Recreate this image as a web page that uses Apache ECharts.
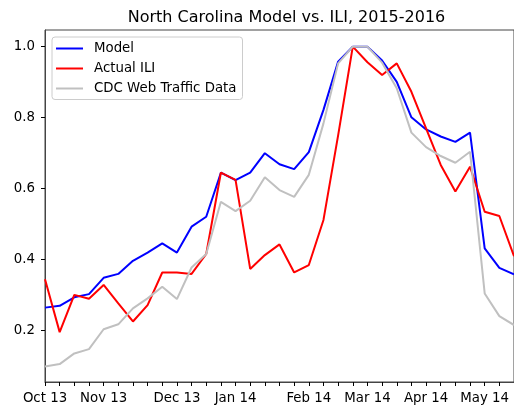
<!DOCTYPE html>
<html>
<head>
<meta charset="utf-8">
<script src="https://cdn.jsdelivr.net/npm/echarts@6/dist/echarts.min.js"></script>
<style>html,body{margin:0;padding:0;background:#fff;}#c{width:514px;height:408px;}</style>
</head>
<body>
<div id="c"></div>
<script>
// Weekly index along the x axis (week 0 = "Oct 13")
var weeks = [];
for (var i = 0; i <= 32; i++) weeks.push(String(i));
var tickLabels = ['Oct 13', 'Nov 13', 'Dec 13', 'Jan 14', 'Feb 14', 'Mar 14', 'Apr 14', 'May 14'];
var tickLabelWeeks = [0, 4, 9, 13, 18, 22, 26, 30];
var yTicks = [0.2, 0.4, 0.6, 0.8, 1.0];

var model = [0.265, 0.270, 0.294, 0.303, 0.349, 0.360, 0.397, 0.420, 0.446, 0.420,
             0.493, 0.521, 0.645, 0.624, 0.645, 0.700, 0.669, 0.655, 0.703, 0.822,
             0.958, 1.000, 1.000, 0.961, 0.901, 0.801, 0.767, 0.747, 0.732, 0.758,
             0.432, 0.377, 0.359];
var actualILI = [0.345, 0.196, 0.301, 0.290, 0.329, 0.277, 0.226, 0.272, 0.364, 0.364,
                 0.360, 0.416, 0.645, 0.625, 0.374, 0.413, 0.443, 0.364, 0.385, 0.512,
                 0.750, 1.000, 0.956, 0.920, 0.953, 0.873, 0.770, 0.667, 0.592, 0.662,
                 0.535, 0.523, 0.410];
var cdcTraffic = [0.099, 0.106, 0.136, 0.148, 0.204, 0.218, 0.263, 0.291, 0.324, 0.289,
                  0.378, 0.416, 0.563, 0.537, 0.566, 0.632, 0.596, 0.577, 0.639, 0.784,
                  0.953, 1.000, 1.000, 0.955, 0.883, 0.758, 0.717, 0.692, 0.673, 0.704,
                  0.305, 0.241, 0.216];

var FONT = 'DejaVu Sans';
var chart = echarts.init(document.getElementById('c'), null, {renderer: 'canvas'});
chart.setOption({
  animation: false,
  backgroundColor: '#fff',
  textStyle: {fontFamily: FONT},
  title: {
    text: 'North Carolina Model vs. ILI, 2015-2016',
    left: 281.5, top: 5, textAlign: 'center',
    textStyle: {fontFamily: FONT, fontSize: 16, fontWeight: 'normal', color: '#000'}
  },
  grid: {left: 45, top: 30, bottom: 26, right: -3.6, show: true, borderColor: '#444', borderWidth: 1, backgroundColor: 'transparent'},
  legend: {
    orient: 'vertical', left: 52, top: 37,
    padding: [4.5, 6, 4, 4],
    icon: 'rect',
    itemWidth: 27, itemHeight: 2, itemGap: 6,
    backgroundColor: 'rgba(255,255,255,0.8)', borderColor: '#ccc', borderWidth: 1, borderRadius: 3,
    textStyle: {fontFamily: FONT, fontSize: 13.33, lineHeight: 14, color: '#000', padding: [0, 0, 0, 6]},
    data: ['Model', 'Actual ILI', 'CDC Web Traffic Data']
  },
  xAxis: {
    type: 'category', data: weeks, boundaryGap: false,
    axisLine: {lineStyle: {color: '#444', width: 1}},
    axisTick: {show: true, interval: 0, length: 4, lineStyle: {color: '#000', width: 1}},
    axisLabel: {
      interval: function (idx) { return tickLabelWeeks.indexOf(idx) >= 0; },
      formatter: function (v, idx) { var j = tickLabelWeeks.indexOf(Number(v)); return j >= 0 ? tickLabels[j] : ''; },
      fontFamily: FONT, fontSize: 13.33, color: '#000', margin: 10
    },
    splitLine: {show: false}
  },
  yAxis: {
    type: 'value', min: 0.0555, max: 1.047,
    axisLine: {show: true, lineStyle: {color: '#444', width: 1}},
    axisTick: {show: true, length: 4, customValues: yTicks, lineStyle: {color: '#000', width: 1}},
    axisLabel: {customValues: yTicks, formatter: function (v) { return v.toFixed(1); },
      fontFamily: FONT, fontSize: 13.33, color: '#000', margin: 10},
    splitLine: {show: false}
  },
  series: [
    {name: 'Model', type: 'line', data: model, symbol: 'none', lineStyle: {color: '#0000ff', width: 2}, itemStyle: {color: '#0000ff'}},
    {name: 'Actual ILI', type: 'line', data: actualILI, symbol: 'none', lineStyle: {color: '#ff0000', width: 2}, itemStyle: {color: '#ff0000'}},
    {name: 'CDC Web Traffic Data', type: 'line', data: cdcTraffic, symbol: 'none', lineStyle: {color: '#c0c0c0', width: 2}, itemStyle: {color: '#c0c0c0'}}
  ]
});
</script>
</body>
</html>
